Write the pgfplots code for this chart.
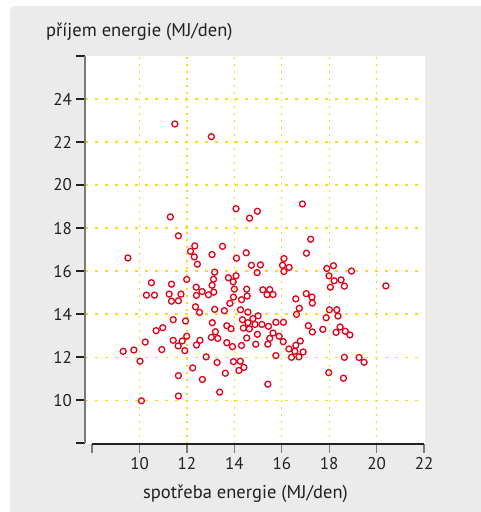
\documentclass[border=0pt]{standalone}
\usepackage{pgfplots}
\pgfplotsset{compat=1.18}
\usepackage{fontspec}
\setmainfont{PT Sans}
\definecolor{bggrey}{HTML}{EBEBEB}
\definecolor{axgrey}{HTML}{7A7A7A}
\definecolor{txt}{HTML}{231F20}
\definecolor{ptred}{HTML}{E2001A}
\definecolor{gridy}{HTML}{FFDA1A}
\begin{document}
\begin{tikzpicture}
\useasboundingbox (0pt,0pt) rectangle (480pt,512pt);
\fill[white] (0pt,0pt) rectangle (480pt,512pt);
\fill[bggrey, rounded corners=5pt] (10pt,-10pt) rectangle (490pt,506pt);
\begin{axis}[
  at={(85pt,68pt)}, anchor=south west,
  scale only axis, width=340pt, height=388pt,
  xmin=7.7, xmax=22.04, ymin=7.96, ymax=26,
  axis line style={draw=none},
  axis background/.style={fill=white},
  xtick={10,12,...,20}, ytick={10,12,...,24},
  extra x ticks={8,22}, extra x tick labels={,22},
  extra y ticks={8,26}, extra y tick labels={,},
  extra tick style={grid=none},
  xtick pos=lower, ytick pos=left,
  grid=major,
  x grid style={gridy, line width=1.2pt, dash pattern=on 2pt off 5pt},
  y grid style={gridy, line width=1.2pt, dash pattern=on 3pt off 7pt},
  tick align=outside, major tick length=8.5pt,
  tick style={line width=1.3pt},
  x tick style={draw=axgrey},
  y tick style={draw=txt},
  /pgf/number format/assume math mode=true,
  ticklabel style={font=\fontsize{17}{20}\selectfont, text=txt},
  xticklabel style={yshift=-1pt},
  yticklabel style={xshift=-1pt},
  clip=false,
]
\addplot[only marks, mark=o, mark size=3.0pt, mark options={draw=ptred, line width=1.3pt}] table {
x y
11.49 22.84
13.03 22.25
11.30 18.52
11.64 17.64
14.07 18.90
14.64 18.46
14.97 18.78
16.87 19.12
17.22 17.48
9.51 16.61
12.33 17.17
12.15 16.92
12.31 16.66
12.44 16.32
13.06 16.77
13.50 17.15
14.09 16.60
14.50 16.85
14.72 16.27
15.10 16.29
13.17 15.95
17.04 16.83
16.09 16.58
16.03 16.27
16.31 16.17
16.09 15.98
17.90 16.12
18.18 16.25
18.94 16.00
14.96 15.93
10.50 15.46
11.35 15.39
11.99 15.61
13.75 15.69
14.07 15.78
13.95 15.50
13.12 15.62
13.06 15.34
12.39 15.25
12.64 15.05
12.91 14.90
13.13 15.02
14.00 15.16
14.52 15.16
14.54 14.84
13.96 14.79
14.30 14.67
13.81 14.50
12.40 14.87
10.29 14.88
10.63 14.88
11.25 14.93
11.75 14.93
11.35 14.60
11.64 14.62
12.36 14.34
12.53 14.08
13.17 14.22
13.58 14.16
14.26 14.20
14.57 14.09
15.00 13.92
11.42 13.74
11.94 13.68
13.07 13.60
13.68 13.46
13.86 13.32
14.34 13.74
14.57 13.60
14.78 13.79
14.38 13.35
14.63 13.31
14.87 13.52
14.97 13.06
10.98 13.37
10.70 13.23
13.20 13.18
10.24 12.70
11.42 12.78
11.80 12.75
11.99 12.97
11.63 12.52
11.91 12.30
12.55 12.78
12.40 12.56
13.03 12.92
13.30 12.87
13.68 12.67
13.92 12.49
14.30 12.54
14.52 12.89
14.90 12.60
9.31 12.27
9.76 12.33
10.94 12.35
10.02 11.81
12.81 12.01
13.27 11.75
13.96 11.79
14.25 11.81
14.40 11.52
14.19 11.38
12.24 11.50
13.62 11.25
11.64 11.14
12.65 10.96
11.64 10.19
13.38 10.37
10.08 9.97
17.99 15.78
18.21 15.55
18.50 15.59
18.64 15.30
18.05 15.25
20.39 15.31
15.20 15.13
15.49 15.14
15.38 14.90
15.63 14.91
16.59 14.71
17.03 14.95
17.27 14.79
17.29 14.51
16.74 14.27
16.62 13.99
18.01 14.20
18.32 14.20
18.37 13.91
17.87 13.83
15.16 13.52
15.44 13.43
15.75 13.62
16.07 13.62
15.63 13.12
15.49 12.87
15.89 12.97
16.06 12.72
15.41 12.60
17.12 13.46
17.29 13.17
17.73 13.29
18.46 13.40
18.29 13.15
18.68 13.20
18.87 13.03
16.78 12.75
16.59 12.55
16.30 12.38
16.55 12.27
16.90 12.24
16.41 11.99
16.72 12.01
15.75 12.07
18.64 11.99
19.26 11.98
19.47 11.76
17.98 11.28
18.60 11.02
15.41 10.74
};
\draw[txt, line width=1.3pt] (axis cs:8,7.96) -- (axis cs:22,7.96);
\draw[axgrey, line width=1.3pt] (axis cs:7.7,8) -- (axis cs:7.7,26);
\end{axis}
\node[anchor=base west, inner sep=0pt, text=txt, font=\fontsize{18.5}{22}\selectfont] at (46pt,475.5pt) {příjem energie (MJ/den)};
\node[anchor=base, inner sep=0pt, text=txt, font=\fontsize{18.5}{22}\selectfont] at (245.5pt,13pt) {spotřeba energie (MJ/den)};
\end{tikzpicture}
\end{document}
